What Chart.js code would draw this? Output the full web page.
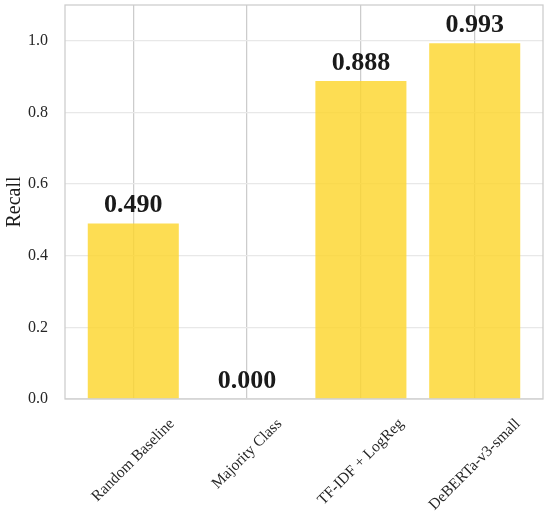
<!DOCTYPE html>
<html>
<head>
<meta charset="utf-8">
<script src="https://cdn.jsdelivr.net/npm/chart.js@4"></script>
<style>
  html, body { margin: 0; padding: 0; background: #fff; }
  #wrap { width: 550px; height: 517px; }
</style>
</head>
<body>
<div id="wrap"><canvas id="chart" width="550" height="517"></canvas></div>
<script>
// data
const categories = ["Random Baseline", "Majority Class", "TF-IDF + LogReg", "DeBERTa-v3-small"];
const recallValues = [0.490, 0.000, 0.888, 0.993];
const yTicks = [0.0, 0.2, 0.4, 0.6, 0.8, 1.0];

const SERIF = "'Liberation Serif', 'Times New Roman', serif";

// value labels above bars + rotated category labels + full box
const annotate = {
  id: "annotate",
  afterDatasetsDraw(chart) {
    const ctx = chart.ctx;
    const meta = chart.getDatasetMeta(0);
    ctx.save();
    ctx.fillStyle = "#1a1a1a";
    ctx.font = "bold 26px " + SERIF;
    ctx.textAlign = "center";
    ctx.textBaseline = "alphabetic";
    meta.data.forEach((bar, i) => {
      ctx.fillText(recallValues[i].toFixed(3), bar.x, bar.y - 11);
    });
    ctx.restore();
  },
  afterDraw(chart) {
    const ctx = chart.ctx;
    const area = chart.chartArea;
    const xScale = chart.scales.x;
    ctx.save();
    // box around plot
    ctx.strokeStyle = "#cccccc";
    ctx.lineWidth = 1.25;
    ctx.strokeRect(area.left, area.top, area.right - area.left, area.bottom - area.top);

    // x labels, 45deg, bbox centered on tick (matplotlib style)
    ctx.fillStyle = "#262626";
    ctx.font = "15.5px " + SERIF;
    ctx.textAlign = "center";
    ctx.textBaseline = "middle";
    const h = 15.5;
    categories.forEach((name, i) => {
      const w = ctx.measureText(name).width;
      const side = (w + h) * Math.SQRT1_2;
      const cx = xScale.getPixelForValue(i);
      const cy = area.bottom + 17 + side / 2;
      ctx.save();
      ctx.translate(cx, cy);
      ctx.rotate(-Math.PI / 4);
      ctx.fillText(name, 0, 0);
      ctx.restore();
    });
    ctx.restore();
  }
};

const noPad = (scale) => {
  scale.paddingTop = 0;
  scale.paddingBottom = 0;
  scale.paddingLeft = 0;
  scale.paddingRight = 0;
};

new Chart(document.getElementById("chart"), {
  type: "bar",
  data: {
    datasets: [{
      label: "Recall",
      data: recallValues.map((v, i) => ({ x: i, y: v })),
      backgroundColor: "rgba(253, 214, 45, 0.82)",
      borderWidth: 0,
      barPercentage: 1.0,
      categoryPercentage: 0.8
    }]
  },
  options: {
    responsive: false,
    animation: false,
    layout: { padding: { top: 5, right: 7, left: 0, bottom: 0 } },
    plugins: {
      legend: { display: false },
      tooltip: { enabled: false }
    },
    scales: {
      x: {
        type: "linear",
        min: -0.6,
        max: 3.6,
        offset: false,
        afterBuildTicks: (scale) => {
          scale.ticks = categories.map((c, i) => ({ value: i }));
        },
        afterFit: (scale) => { scale.height = 118; noPad(scale); },
        ticks: { display: false },
        grid: { offset: false, color: "#cccccc", lineWidth: 1.25, drawTicks: false },
        border: { display: false }
      },
      y: {
        min: 0,
        max: 1.1,
        afterBuildTicks: (scale) => {
          scale.ticks = yTicks.map(v => ({ value: v }));
        },
        afterFit: (scale) => { scale.width = 65; noPad(scale); },
        ticks: {
          padding: 17,
          color: "#262626",
          font: { family: SERIF, size: 16 },
          callback: (v) => Number(v).toFixed(1)
        },
        grid: { color: "#e8e8e8", lineWidth: 1.25, drawTicks: false },
        border: { display: false },
        title: {
          display: true,
          text: "Recall",
          color: "#1a1a1a",
          font: { family: SERIF, size: 20 },
          padding: { top: 3, bottom: 0 }
        }
      }
    }
  },
  plugins: [annotate]
});
</script>
</body>
</html>
